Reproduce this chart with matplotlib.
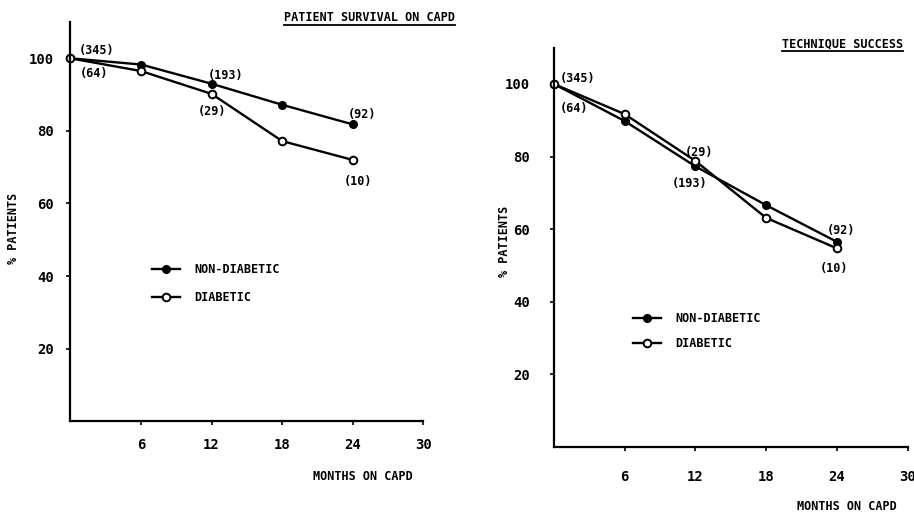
import matplotlib
matplotlib.use('Agg')
import matplotlib.pyplot as plt
from matplotlib.lines import Line2D

months = [0, 6, 12, 18, 24]

# patient survival on CAPD (%)
surv_nondiab = [100, 98.3, 93, 87.2, 81.8]
surv_diab = [100, 96.5, 90.2, 77.2, 72]

# technique success (%)
tech_nondiab = [100, 89.8, 77.3, 66.6, 56.5]
tech_diab = [100, 91.7, 78.8, 63.1, 54.7]

xticks = [6, 12, 18, 24, 30]
yticks = [20, 40, 60, 80, 100]

# patient counts: (label, series, month index, offset px, ha)
surv_counts = [('(345)', 'nd', 0, (8, 8), 'left'), ('(64)', 'd', 0, (9, -15), 'left'),
               ('(193)', 'nd', 2, (-4, 8), 'left'), ('(29)', 'd', 2, (0, -18), 'center'),
               ('(92)', 'nd', 4, (9, 10), 'center'), ('(10)', 'd', 4, (5, -22), 'center')]
tech_counts = [('(345)', 'nd', 0, (6, 5), 'left'), ('(64)', 'd', 0, (6, -25), 'left'),
               ('(29)', 'd', 2, (4, 8), 'center'), ('(193)', 'nd', 2, (-6, -17), 'center'),
               ('(92)', 'nd', 4, (4, 11), 'center'), ('(10)', 'd', 4, (-3, -20), 'center')]

plt.rcParams['font.family'] = 'DejaVu Sans Mono'
plt.rcParams['font.weight'] = 'bold'
plt.rcParams['axes.labelweight'] = 'bold'

fig = plt.figure(figsize=(9.14, 5.13), dpi=100)
ax1 = fig.add_axes([0.0771, 0.179, 0.386, 0.778])
ax2 = fig.add_axes([0.606, 0.129, 0.387, 0.778])
titles = []


def panel(ax, nd, d, counts, title, title_xy, leg_xy, leg_spacing, xpad, ypad,
          ylab_xy, xlab_xy):
    ax.plot(months, nd, color='black', lw=1.7, marker='o', ms=5.5,
            mfc='black', mec='black', label='NON-DIABETIC', clip_on=False)
    ax.plot(months, d, color='black', lw=1.7, marker='o', ms=5.5,
            mfc='white', mec='black', mew=1.4, label='DIABETIC', clip_on=False)
    ax.set_xlim(0, 30)
    ax.set_ylim(0, 110)
    ax.set_xticks(xticks)
    ax.set_yticks(yticks)
    for s in ['top', 'right']:
        ax.spines[s].set_visible(False)
    for s in ['left', 'bottom']:
        ax.spines[s].set_linewidth(1.6)
    ax.tick_params(axis='x', direction='out', length=3, width=1.2, pad=xpad, labelsize=10)
    ax.tick_params(axis='y', direction='out', length=3, width=1.2, pad=ypad, labelsize=10)
    series = {'nd': nd, 'd': d}
    for lab, key, i, off, ha in counts:
        ax.annotate(lab, (months[i], series[key][i]), xytext=off,
                    textcoords='offset pixels', ha=ha, va='center', fontsize=8.5)
    ax.set_ylabel('% PATIENTS', fontsize=8.5)
    ax.yaxis.set_label_coords(*ylab_xy)
    ax.set_xlabel('MONTHS ON CAPD', fontsize=8.5)
    ax.xaxis.set_label_coords(*xlab_xy)
    titles.append(fig.text(title_xy[0], title_xy[1], title, ha='right', va='center', fontsize=8.5))
    ax.legend(loc='upper left', bbox_to_anchor=leg_xy, frameon=False, fontsize=8.5,
              handlelength=2.4, handletextpad=1.2, labelspacing=leg_spacing,
              borderpad=0, borderaxespad=0)


panel(ax1, surv_nondiab, surv_diab, surv_counts, 'PATIENT SURVIVAL ON CAPD',
      (0.498, 0.965), (0.231, 0.396), 1.3, 9, 9, (-0.143, 0.484), (0.829, -0.123))
panel(ax2, tech_nondiab, tech_diab, tech_counts, 'TECHNIQUE SUCCESS',
      (0.988, 0.915), (0.223, 0.338), 1.0, 14, 14, (-0.121, 0.514), (0.828, -0.133))

# underline the titles
fig.canvas.draw()
inv = fig.transFigure.inverted()
for t in titles:
    bb = t.get_window_extent().transformed(inv)
    fig.add_artist(Line2D([bb.x0, bb.x1], [bb.y0 - 0.002, bb.y0 - 0.002],
                          transform=fig.transFigure, color='black', lw=1.3))

fig.savefig('out.png', dpi=100)
